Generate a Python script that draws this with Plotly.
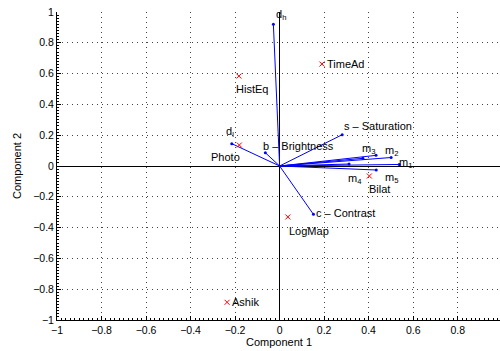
import plotly.graph_objects as go

# Observations (scores)
obs_names = ["TimeAd", "HistEq", "Photo", "Bilat", "LogMap", "Ashik"]
obs_x = [0.19, -0.183, -0.181, 0.403, 0.037, -0.236]
obs_y = [0.662, 0.584, 0.136, -0.065, -0.331, -0.885]

# Variables (loadings)
var_names = ["d<sub>h</sub>", "d<sub>l</sub>", "b – Brightness", "s – Saturation", "c – Contrast",
             "m<sub>1</sub>", "m<sub>2</sub>", "m<sub>3</sub>", "m<sub>4</sub>", "m<sub>5</sub>", ""]
var_x = [-0.028, -0.215, -0.064, 0.281, 0.152, 0.537, 0.501, 0.433, 0.312, 0.434, 0.374]
var_y = [0.92, 0.145, 0.086, 0.203, -0.314, 0.01, 0.055, 0.069, 0.013, -0.026, 0.05]

x_ticks = [-1, -0.8, -0.6, -0.4, -0.2, 0, 0.2, 0.4, 0.6, 0.8, 1]
y_ticks = [-1, -0.8, -0.6, -0.4, -0.2, 0, 0.2, 0.4, 0.6, 0.8, 1]

FONT = "Liberation Sans, Arial, Helvetica, sans-serif"

fig = go.Figure()

# vector lines
lx, ly = [], []
for vx, vy in zip(var_x, var_y):
    lx += [0, vx, None]
    ly += [0, vy, None]
fig.add_trace(go.Scatter(x=lx, y=ly, mode="lines", line=dict(color="#0000ff", width=1),
                         hoverinfo="skip", showlegend=False))
fig.add_trace(go.Scatter(x=var_x, y=var_y, mode="markers",
                         marker=dict(color="#0000ff", size=3), showlegend=False))
fig.add_trace(go.Scatter(x=obs_x, y=obs_y, mode="markers",
                         marker=dict(symbol="x-thin", color="#ff0000", size=5,
                                     line=dict(color="#ff0000", width=1)),
                         showlegend=False))

# label offsets (pixels): (xanchor, xshift, yshift)
obs_off = {
    "TimeAd": ("left", 3, 0),
    "HistEq": ("left", -5, -13),
    "Photo": ("right", 3, -12),
    "Bilat": ("left", -2, -13),
    "LogMap": ("left", -1, -14),
    "Ashik": ("left", 3, 0),
}
for n, x, y in zip(obs_names, obs_x, obs_y):
    a, xs, ys = obs_off[n]
    fig.add_annotation(x=x, y=y, text=n, showarrow=False, xanchor=a, yanchor="middle",
                       xshift=xs, yshift=ys, font=dict(size=11, color="black", family=FONT))

var_off = [("left", 1, 9), ("left", -8, 12), ("left", -4, 7), ("left", 0, 9), ("left", 1, 1),
           ("left", -2, 1), ("left", -8, 7), ("left", -16, 6), ("left", -3, -15), ("left", 7, -8),
           ("left", 0, 0)]
for n, x, y, (a, xs, ys) in zip(var_names, var_x, var_y, var_off):
    if not n:
        continue
    fig.add_annotation(x=x, y=y, text=n, showarrow=False, xanchor=a, yanchor="middle",
                       xshift=xs, yshift=ys, font=dict(size=11, color="black", family=FONT))

axis_common = dict(
    showgrid=True, gridcolor="#444444", griddash="1px,4px", gridwidth=1,
    zeroline=True, zerolinecolor="black", zerolinewidth=1,
    showline=True, linecolor="black", linewidth=1,
    ticks="inside", ticklen=4, tickcolor="black",
    tickfont=dict(size=10.5, color="black", family=FONT),
    minor=dict(ticks="inside", ticklen=2, tickcolor="black", dtick=0.02, showgrid=False),
    mirror=False,
)
fig.update_xaxes(range=[-1, 0.99], tickvals=x_ticks, ticktext=[str(t).replace("-", "\u2212") for t in x_ticks],
                 **axis_common)
fig.update_yaxes(range=[-1, 1], tickvals=y_ticks, ticktext=[str(t).replace("-", "\u2212") for t in y_ticks],
                 **axis_common)

fig.add_annotation(xref="paper", yref="paper", x=0.5, y=0, yshift=-22, text="Component 1",
                   showarrow=False, xanchor="center", yanchor="middle",
                   font=dict(size=11, color="black", family=FONT))
fig.add_annotation(xref="paper", yref="paper", x=0, y=0.5, xshift=-40, text="Component 2",
                   showarrow=False, textangle=-90, xanchor="center", yanchor="middle",
                   font=dict(size=11, color="black", family=FONT))

fig.update_layout(width=500, height=351, margin=dict(l=57, r=0, t=12, b=31),
                  plot_bgcolor="white", paper_bgcolor="white", showlegend=False)

fig.write_html("out.html")
